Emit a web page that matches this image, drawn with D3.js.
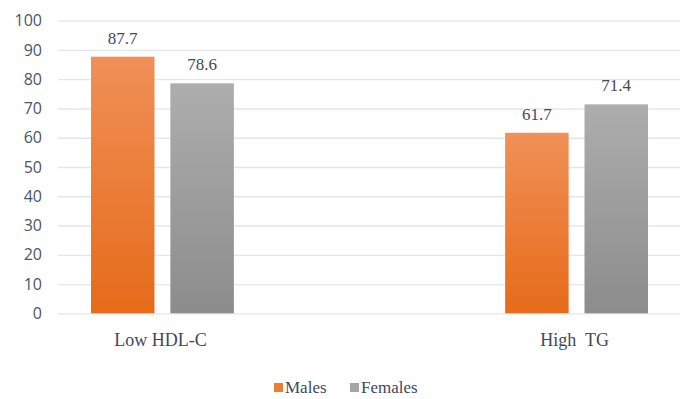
<!DOCTYPE html>
<html>
<head>
<meta charset="utf-8">
<script src="https://cdn.jsdelivr.net/npm/d3@7/dist/d3.min.js"></script>
<style>
  html, body { margin: 0; padding: 0; background: #fff; }
  svg { display: block; }
  .serif { font-family: "Times New Roman", "Liberation Serif", "DejaVu Serif", "Noto Serif", serif; }
</style>
</head>
<body>
<svg id="chart" width="680" height="399"></svg>
<script>
const categories = ["Low HDL-C", "High TG"];
const seriesNames = ["Males", "Females"];
const males = [87.7, 61.7];
const females = [78.6, 71.4];
const yTicks = [0, 10, 20, 30, 40, 50, 60, 70, 80, 90, 100];

const svg = d3.select("#chart");
const plot = { left: 58, right: 680, top: 20.7, bottom: 313.3 };

const y = d3.scaleLinear().domain([0, 100]).range([plot.bottom, plot.top]);
const x0 = d3.scaleBand().domain(categories).range([91, 648]).paddingInner(0.655).paddingOuter(0);
const x1 = d3.scaleBand().domain(seriesNames).range([0, x0.bandwidth()]).paddingInner(0.2).paddingOuter(0);

const defs = svg.append("defs");
const grads = {
  Males: ["#F09058", "#E66B1A"],
  Females: ["#ADADAD", "#8C8C8C"]
};
seriesNames.forEach(s => {
  const g = defs.append("linearGradient").attr("id", "g-" + s)
    .attr("x1", 0).attr("y1", 0).attr("x2", 0).attr("y2", 1);
  g.append("stop").attr("offset", "0%").attr("stop-color", grads[s][0]);
  g.append("stop").attr("offset", "100%").attr("stop-color", grads[s][1]);
});

// gridlines
const yAxis = d3.axisLeft(y).tickValues(yTicks).tickSize(-(plot.right - plot.left)).tickFormat(d3.format("d"));
const ga = svg.append("g").attr("transform", `translate(${plot.left},0)`).call(yAxis);
ga.select(".domain").remove();
ga.selectAll(".tick line").attr("stroke", "#E3E6EC").attr("stroke-width", 1.3);
ga.selectAll(".tick text")
  .attr("x", -16)
  .attr("fill", "#4A5568")
  .attr("font-family", "'Open Sans', 'Noto Sans', sans-serif")
  .attr("font-size", "16px");

const data = categories.map((c, i) => ({ cat: c, vals: [{ s: "Males", v: males[i] }, { s: "Females", v: females[i] }] }));

const groups = svg.append("g").selectAll("g").data(data).join("g")
  .attr("transform", d => `translate(${x0(d.cat)},0)`);

groups.selectAll("rect").data(d => d.vals).join("rect")
  .attr("x", d => x1(d.s))
  .attr("y", d => y(d.v))
  .attr("width", x1.bandwidth())
  .attr("height", d => y(0) - y(d.v))
  .attr("fill", d => `url(#g-${d.s})`);

groups.selectAll("text.val").data(d => d.vals).join("text")
  .attr("class", "val serif")
  .attr("x", d => x1(d.s) + x1.bandwidth() / 2)
  .attr("y", d => y(d.v) - 13)
  .attr("text-anchor", "middle")
  .attr("fill", "#44475A")
  .attr("font-size", "17px")
  .text(d => d.v.toFixed(1));

// category labels
svg.append("g").selectAll("text").data(categories).join("text")
  .attr("class", "serif")
  .attr("x", d => x0(d) + x0.bandwidth() / 2 - 2)
  .attr("y", 346)
  .attr("text-anchor", "middle")
  .attr("fill", "#44475A")
  .attr("font-size", "18px")
  .attr("xml:space", "preserve")
  .style("white-space", "pre")
  .text(d => d === "High TG" ? "High  TG" : d);

// legend
const legendItems = [
  { name: "Males", color: "#ED7D31", x: 274 },
  { name: "Females", color: "#A5A5A5", x: 350 }
];
const lg = svg.append("g").selectAll("g").data(legendItems).join("g")
  .attr("transform", d => `translate(${d.x},0)`);
lg.append("rect").attr("x", 0).attr("y", 383).attr("width", 9).attr("height", 9).attr("fill", d => d.color);
lg.append("text").attr("class", "serif").attr("x", 11).attr("y", 393)
  .attr("fill", "#44475A")
  .attr("font-size", "17px")
  .text(d => d.name);
</script>
</body>
</html>
